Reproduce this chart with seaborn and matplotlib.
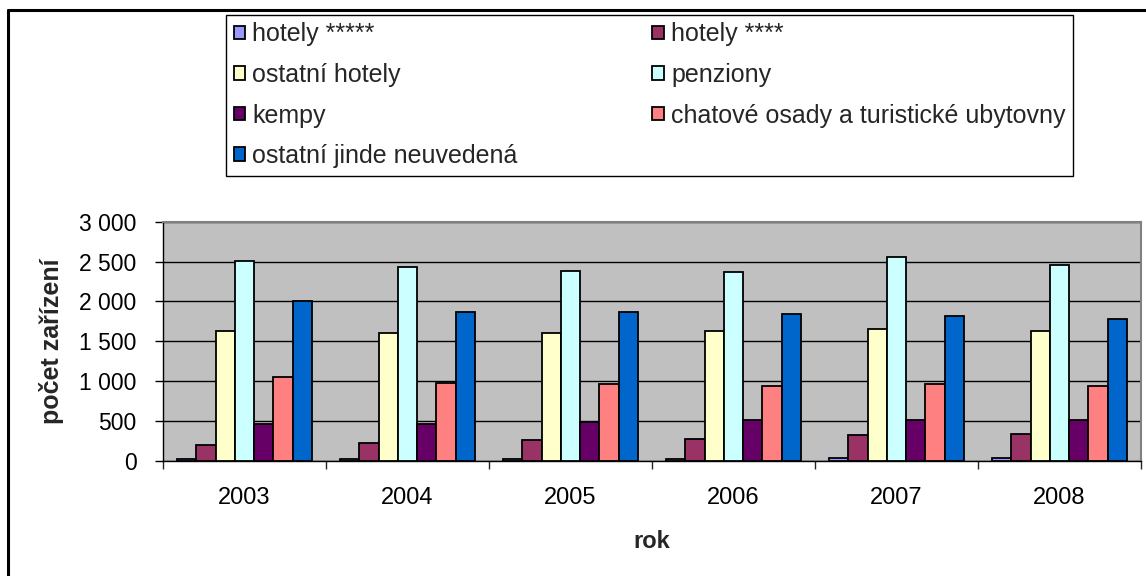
import matplotlib
matplotlib.use("Agg")
import matplotlib.pyplot as plt
import matplotlib.ticker as mticker
from matplotlib.lines import Line2D
import numpy as np
import pandas as pd
import seaborn as sns

# Počet hromadných ubytovacích zařízení podle kategorie
roky = ["2003", "2004", "2005", "2006", "2007", "2008"]
kategorie = [
    "hotely *****",
    "hotely ****",
    "ostatní hotely",
    "penziony",
    "kempy",
    "chatové osady a turistické ubytovny",
    "ostatní jinde neuvedená",
]
hotely_5 = [20, 20, 20, 20, 38, 38]
hotely_4 = [206, 231, 260, 281, 323, 344]
ostatni_hotely = [1628, 1606, 1606, 1628, 1653, 1628]
penziony = [2506, 2435, 2385, 2364, 2553, 2460]
kempy = [469, 465, 490, 511, 515, 515]
chatove_osady = [1059, 984, 963, 937, 963, 937]
ostatni_jinde = [2008, 1862, 1862, 1837, 1812, 1778]

barvy = ["#9999FF", "#993366", "#FFFFCC", "#CCFFFF", "#660066", "#FF8080", "#0066CC"]

rady = [hotely_5, hotely_4, ostatni_hotely, penziony, kempy, chatove_osady, ostatni_jinde]
df = pd.DataFrame(
    [(rok, kat, hodnoty[i]) for kat, hodnoty in zip(kategorie, rady) for i, rok in enumerate(roky)],
    columns=["rok", "typ", "pocet"],
)

sns.set_style("white")
plt.rcParams["font.family"] = ["Liberation Sans", "DejaVu Sans"]

W, H = 1146, 576
fig = plt.figure(figsize=(W / 100, H / 100), dpi=100)
ax = fig.add_axes([163 / W, 1 - 461 / H, (1141 - 163) / W, (461 - 221.7) / H])
ax.set_facecolor("#C0C0C0")

sns.barplot(
    data=df, x="rok", y="pocet", hue="typ", hue_order=kategorie,
    palette=barvy, saturation=1, width=0.83, gap=0,
    edgecolor="black", linewidth=1.3, ax=ax, zorder=3,
)

ax.set_ylim(0, 3000)
ax.set_xlim(-0.5, len(roky) - 0.5)
ax.yaxis.set_major_locator(mticker.MultipleLocator(500))
ax.yaxis.set_major_formatter(
    mticker.FuncFormatter(lambda v, _: f"{int(v):,}".replace(",", " "))
)
ax.grid(axis="y", color="black", linewidth=1.0, zorder=1)
ax.set_axisbelow(True)

for side in ["top", "right"]:
    ax.spines[side].set_color("#808080")
    ax.spines[side].set_linewidth(1.5)
for side in ["left", "bottom"]:
    ax.spines[side].set_color("black")
    ax.spines[side].set_linewidth(1.0)

ax.tick_params(axis="y", left=True, direction="out", length=6, width=1,
               labelsize=16.5, pad=13, colors="black")
ax.tick_params(axis="x", bottom=False, labelsize=17, pad=15, colors="black")
ax.set_xticks(np.arange(-0.5, len(roky), 1.0), minor=True)
ax.tick_params(axis="x", which="minor", bottom=True, direction="out", length=6, width=1)

ax.set_xlabel("rok", fontsize=17, fontweight="bold", labelpad=15)
ax.set_ylabel("počet zařízení", fontsize=18, fontweight="bold", labelpad=11)

# legenda ve dvou sloupcích, řazená po řádcích
handles, labels = ax.get_legend_handles_labels()
poradi = [0, 2, 4, 6, 1, 3, 5]
if ax.get_legend() is not None:
    ax.get_legend().remove()
leg = fig.legend(
    [handles[i] for i in poradi], [labels[i] for i in poradi],
    ncol=2, loc="upper left",
    bbox_to_anchor=(226 / W, 1 - 178 / H, (1073 - 226) / W, (178 - 15) / H),
    mode="expand", fontsize=18, frameon=True, fancybox=False, framealpha=1,
    facecolor="white", edgecolor="black", handlelength=0.45, handleheight=0.45,
    handletextpad=0.3, labelspacing=0.66, borderaxespad=0, borderpad=0.3,
    columnspacing=1.0,
)
leg.get_frame().set_linewidth(1.0)

# rámeček celého grafu
fig.add_artist(Line2D([8 / W, 8 / W], [0, 1 - 10 / H], transform=fig.transFigure,
                      color="black", linewidth=2.2))
fig.add_artist(Line2D([8 / W, 1], [1 - 10 / H, 1 - 10 / H], transform=fig.transFigure,
                      color="black", linewidth=2.2))

fig.savefig("out.png", dpi=100, facecolor="white")
